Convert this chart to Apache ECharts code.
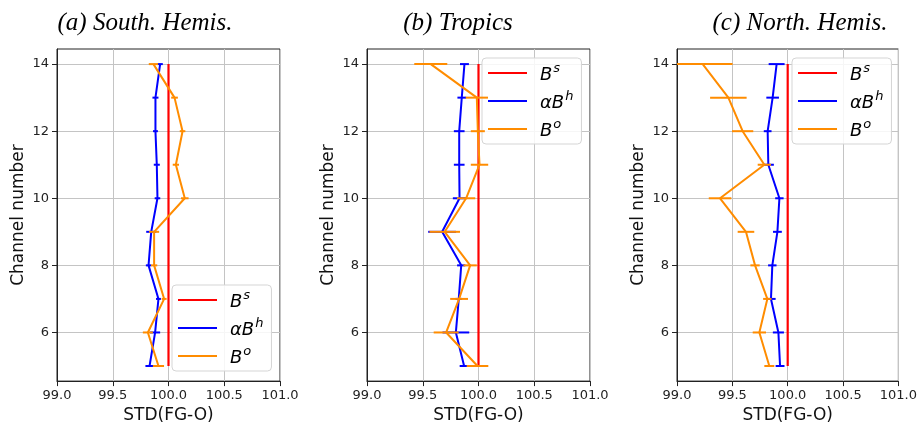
<!DOCTYPE html>
<html><head><meta charset="utf-8">
<script src="https://cdn.jsdelivr.net/npm/echarts@6/dist/echarts.min.js"></script>
<style>html,body{margin:0;padding:0;background:#fff}#c{width:920px;height:429px}</style>
</head><body><div id="c"></div>
<script>
// ---------- data ----------
const channels = [5, 6, 7, 8, 9, 10, 11, 12, 13, 14];
const panelTitles = ['(a) South. Hemis.', '(b) Tropics', '(c) North. Hemis.'];
const xTickValues = [99.0, 99.5, 100.0, 100.5, 101.0];
const yTickValues = [6, 8, 10, 12, 14];
const seriesNames = ['Bs', 'aBh', 'Bo'];

// B^s (reference, all 100)
const bsA = [100, 100, 100, 100, 100, 100, 100, 100, 100, 100];
const bsB = [100, 100, 100, 100, 100, 100, 100, 100, 100, 100];
const bsC = [100, 100, 100, 100, 100, 100, 100, 100, 100, 100];

// alpha B^h
const bhA = [99.830, 99.880, 99.910, 99.821, 99.845, 99.901, 99.895, 99.883, 99.883, 99.925];
const bhErrA = [0.037, 0.045, 0.022, 0.024, 0.045, 0.025, 0.027, 0.022, 0.027, 0.024];
const bhB = [99.871, 99.797, 99.823, 99.845, 99.674, 99.830, 99.827, 99.827, 99.850, 99.874];
const bhErrB = [0.040, 0.120, 0.030, 0.037, 0.125, 0.060, 0.048, 0.048, 0.039, 0.040];
const bhC = [99.931, 99.916, 99.849, 99.861, 99.907, 99.925, 99.825, 99.819, 99.864, 99.900];
const bhErrC = [0.040, 0.050, 0.042, 0.038, 0.040, 0.038, 0.050, 0.035, 0.057, 0.072];

// B^o
const boA = [99.910, 99.815, 99.961, 99.871, 99.871, 100.146, 100.066, 100.126, 100.054, 99.865];
const boErrA = [0.050, 0.045, 0.022, 0.028, 0.045, 0.034, 0.028, 0.025, 0.030, 0.042];
const boB = [99.991, 99.710, 99.826, 99.925, 99.697, 99.889, 100.009, 99.994, 99.985, 99.572];
const boErrB = [0.097, 0.112, 0.080, 0.060, 0.137, 0.082, 0.078, 0.063, 0.100, 0.148];
const boC = [99.834, 99.744, 99.816, 99.705, 99.623, 99.389, 99.789, 99.593, 99.464, 99.232];
const boErrC = [0.045, 0.060, 0.038, 0.042, 0.075, 0.102, 0.060, 0.096, 0.165, 0.270];

// ---------- layout ----------
const gridLefts = [57, 367, 677];
const gridW = 223;
const titleCenters = [145, 458, 800];
const legendPos = [{left: 172, top: 285}, {left: 482, top: 58}, {left: 792, top: 58}];
const RED = '#ff0000', BLUE = '#0000ff', ORANGE = '#ff8c00';

const panels = [
  {bs: bsA, bh: bhA, bhErr: bhErrA, bo: boA, boErr: boErrA},
  {bs: bsB, bh: bhB, bhErr: bhErrB, bo: boB, boErr: boErrB},
  {bs: bsC, bh: bhC, bhErr: bhErrC, bo: boC, boErr: boErrC}
];

function pts(xs) { return xs.map((v, i) => [v, channels[i]]); }
function errPts(xs, es) { return xs.map((v, i) => [v, channels[i], es[i]]); }

function errSeries(idx, xs, es, color, z) {
  return {
    type: 'custom', xAxisIndex: idx, yAxisIndex: idx, z: z, silent: true,
    data: errPts(xs, es),
    renderItem: function (params, api) {
      const x = api.value(0), y = api.value(1), e = api.value(2);
      const p1 = api.coord([x - e, y]);
      const p2 = api.coord([x + e, y]);
      const cs = params.coordSys;
      const x1 = Math.max(cs.x, p1[0]), x2 = Math.min(cs.x + cs.width, p2[0]);
      return {type: 'line', shape: {x1: x1, y1: p1[1], x2: x2, y2: p2[1]},
        style: {stroke: color, lineWidth: 2}};
    }
  };
}

const grids = [], xAxes = [], yAxes = [], series = [], titles = [], legends = [];
panels.forEach((p, i) => {
  grids.push({left: gridLefts[i], width: gridW, top: 49, bottom: 47, show: true,
    borderColor: '#222', borderWidth: 1, backgroundColor: 'transparent'});
  xAxes.push({type: 'value', gridIndex: i, min: 99, max: 101, interval: 0.5,
    name: 'STD(FG-O)', nameLocation: 'middle', nameGap: 21,
    nameTextStyle: {fontFamily: 'DejaVu Sans', fontSize: 17, color: '#111'},
    axisLine: {show: true, lineStyle: {color: '#222', width: 1}},
    axisTick: {show: true, length: 5, lineStyle: {color: '#222'}},
    axisLabel: {fontFamily: 'DejaVu Sans', fontSize: 13, color: '#222', margin: 8,
      formatter: v => v.toFixed(1)},
    splitLine: {show: true, lineStyle: {color: '#c4c4c4', width: 1}}
  });
  yAxes.push({type: 'value', gridIndex: i, min: 4.55, max: 14.45,
    name: 'Channel number', nameLocation: 'middle', nameGap: 30,
    nameTextStyle: {fontFamily: 'DejaVu Sans', fontSize: 17, color: '#111'},
    axisLine: {show: true, lineStyle: {color: '#222', width: 1}},
    axisTick: {show: true, length: 5, customValues: yTickValues, lineStyle: {color: '#222'}},
    axisLabel: {fontFamily: 'DejaVu Sans', fontSize: 13, color: '#222', margin: 8,
      customValues: yTickValues, showMinLabel: true, showMaxLabel: true},
    splitLine: {show: true, lineStyle: {color: '#c4c4c4', width: 1}}
  });
  titles.push({text: panelTitles[i], left: titleCenters[i], top: 11, textAlign: 'center', padding: 0,
    textStyle: {fontFamily: 'Liberation Serif', fontStyle: 'italic', fontWeight: 'normal', fontSize: 25, color: '#000'}});
  legends.push({
    data: seriesNames, orient: 'vertical', left: legendPos[i].left, top: legendPos[i].top,
    icon: 'rect', itemWidth: 39, itemHeight: 2, itemGap: 6,
    backgroundColor: 'rgba(255,255,255,0.85)', borderColor: '#d5d5d5', borderWidth: 1, borderRadius: 4,
    padding: [4, 8, 4, 6], selectedMode: false,
    formatter: function (name) {
      if (name === 'Bs') return '{b|B}{s|s}';
      if (name === 'aBh') return '{b|αB}{s|h}';
      return '{b|B}{s|o}';
    },
    textStyle: {
      padding: [0, 0, 0, 8],
      rich: {
        b: {fontFamily: 'DejaVu Sans', fontStyle: 'italic', fontSize: 18, color: '#000', lineHeight: 22, verticalAlign: 'bottom'},
        s: {fontFamily: 'DejaVu Sans', fontStyle: 'italic', fontSize: 13, color: '#000', lineHeight: 22, verticalAlign: 'top', padding: [0, 0, 0, 1]}
      }
    }
  });
  series.push({name: 'Bs', type: 'line', xAxisIndex: i, yAxisIndex: i, data: pts(p.bs),
    symbol: 'none', lineStyle: {color: RED, width: 2.2}, itemStyle: {color: RED}, z: 3, animation: false});
  series.push(errSeries(i, p.bh, p.bhErr, BLUE, 4));
  series.push({name: 'aBh', type: 'line', xAxisIndex: i, yAxisIndex: i, data: pts(p.bh),
    symbol: 'none', lineStyle: {color: BLUE, width: 2}, itemStyle: {color: BLUE}, z: 4, animation: false});
  series.push(errSeries(i, p.bo, p.boErr, ORANGE, 5));
  series.push({name: 'Bo', type: 'line', xAxisIndex: i, yAxisIndex: i, data: pts(p.bo),
    symbol: 'none', lineStyle: {color: ORANGE, width: 2}, itemStyle: {color: ORANGE}, z: 5, animation: false});
});

const chart = echarts.init(document.getElementById('c'), null, {renderer: 'canvas'});
chart.setOption({
  animation: false,
  backgroundColor: '#fff',
  title: titles, grid: grids, xAxis: xAxes, yAxis: yAxes, legend: legends, series: series
});
</script>
</body></html>
